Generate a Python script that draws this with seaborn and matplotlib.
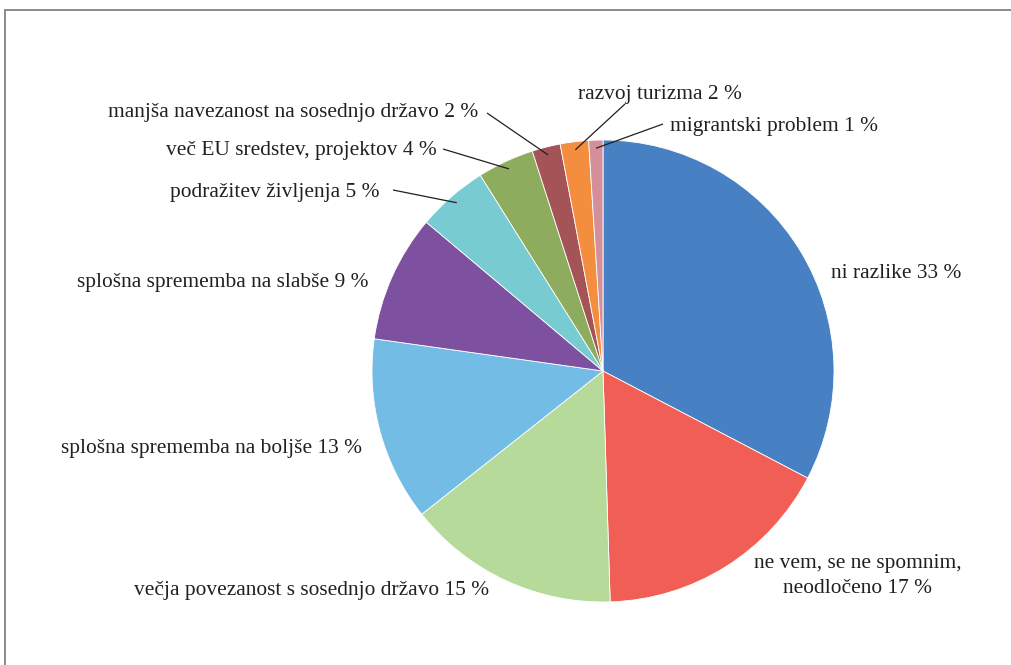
import numpy as np
import matplotlib
matplotlib.use("Agg")
import matplotlib.pyplot as plt
from matplotlib.lines import Line2D
import seaborn as sns

# Survey answers, clockwise from the top of the pie
categories = [
    "ni razlike",
    "ne vem, se ne spomnim,\nneodločeno",
    "večja povezanost s sosednjo državo",
    "splošna sprememba na boljše",
    "splošna sprememba na slabše",
    "podražitev življenja",
    "več EU sredstev, projektov",
    "manjša navezanost na sosednjo državo",
    "razvoj turizma",
    "migrantski problem",
]
shares = [33, 17, 15, 13, 9, 5, 4, 2, 2, 1]
colors = [
    "#4780C3", "#F15E56", "#B6DA9A", "#72BCE6", "#7E50A0",
    "#78CCD1", "#8EAC5D", "#A45357", "#F48E3F", "#D4909A",
]

sns.set_theme(style="white")
plt.rcParams["font.family"] = ["Liberation Serif", "DejaVu Serif"]

W, H = 1012, 665
fig = plt.figure(figsize=(W / 100, H / 100), dpi=100)
ax = fig.add_axes([0, 0, 1, 1])

cx, cy, R = 603, 371, 231
wedges, _ = ax.pie(
    shares, colors=colors, center=(cx, cy), radius=R,
    startangle=-90, counterclock=True,
    wedgeprops=dict(edgecolor="white", linewidth=0.6),
)
ax.set_xlim(0, W)
ax.set_ylim(H, 0)
ax.set_aspect("auto")
ax.axis("off")

fs = 15.4
txt = dict(fontsize=fs, color="#231F20", va="center", linespacing=1.4)

# label text, anchor (pixel) and alignment; optional leader start
placements = [
    ((831, 273), "left", None),
    ((858, 576), "center", None),
    ((489, 590), "right", None),
    ((362, 449), "right", None),
    ((369, 283), "right", None),
    ((380, 192), "right", (393, 190)),
    ((437, 150), "right", (443, 149)),
    ((478, 113), "right", (487, 113)),
    ((742, 94), "right", (625, 104)),
    ((670, 126), "left", (663, 124)),
]

for w, cat, val, ((x, y), ha, lead) in zip(wedges, categories, shares, placements):
    label = f"{cat} {val} %"
    ax.text(x, y, label, ha=ha, multialignment="center", **txt)
    if lead is not None:
        mid = np.deg2rad((w.theta1 + w.theta2) / 2)
        ex = cx + 0.965 * R * np.cos(mid)
        ey = cy + 0.965 * R * np.sin(mid)
        ax.plot([lead[0], ex], [lead[1], ey], color="#231F20", lw=0.9,
                solid_capstyle="butt")

# frame around the figure panel
frame_kw = dict(color="#8A8A8A", lw=1.4, transform=fig.transFigure)
fig.add_artist(Line2D([5 / W, 1.01], [1 - 10 / H, 1 - 10 / H], **frame_kw))
fig.add_artist(Line2D([5 / W, 5 / W], [1 - 10 / H, -0.01], **frame_kw))

fig.savefig("out.png", dpi=100)
